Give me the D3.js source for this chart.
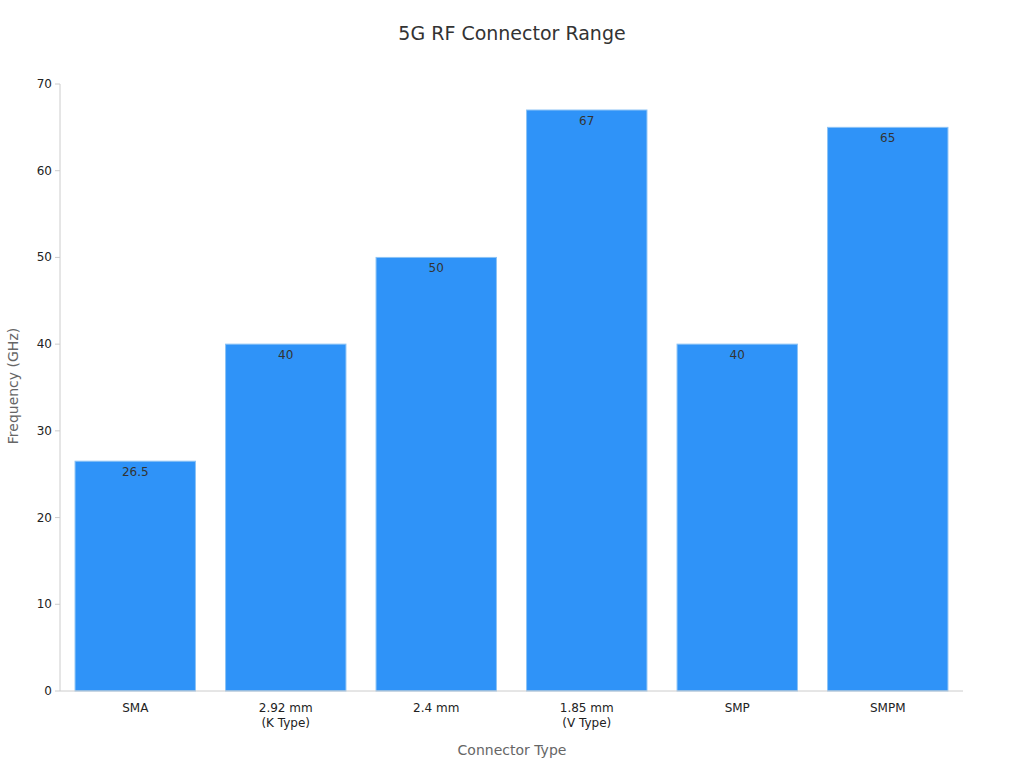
<!DOCTYPE html>
<html><head><meta charset="utf-8">
<script src="https://cdn.jsdelivr.net/npm/d3@7"></script>
<style>body{margin:0;background:#fff;font-family:"DejaVu Sans",sans-serif;}</style>
</head><body><svg id="c" width="1024" height="768"></svg>
<script>
const categories = [["SMA"],["2.92 mm","(K Type)"],["2.4 mm"],["1.85 mm","(V Type)"],["SMP"],["SMPM"]];
const values = [26.5, 40, 50, 67, 40, 65];
const yTicks = [0,10,20,30,40,50,60,70];

const svg = d3.select("#c");
const m = {l:60, r:963, t:84, b:691};
const x = d3.scaleBand().domain(d3.range(categories.length)).range([m.l, m.r]).paddingInner(0.2).paddingOuter(0.1);
const y = d3.scaleLinear().domain([0,70]).range([m.b, m.t]);

svg.append("text").attr("x",512).attr("y",40).attr("text-anchor","middle")
  .attr("font-size",19).attr("fill","#333").text("5G RF Connector Range");

svg.selectAll("rect.bar").data(values).join("rect").attr("class","bar")
  .attr("x",(d,i)=>x(i)).attr("width",x.bandwidth())
  .attr("y",d=>y(d)).attr("height",d=>y(0)-y(d))
  .attr("fill","#2f93f8").attr("stroke","#8cc3f5").attr("stroke-width",1);

svg.selectAll("text.val").data(values).join("text").attr("class","val")
  .attr("x",(d,i)=>x(i)+x.bandwidth()/2).attr("y",d=>y(d)+15)
  .attr("text-anchor","middle").attr("font-size",12).attr("fill","#333").text(d=>d);

// y axis
const ya = svg.append("g");
ya.append("line").attr("x1",m.l).attr("x2",m.l).attr("y1",m.t).attr("y2",m.b).attr("stroke","#ccc");
yTicks.forEach(t=>{
  ya.append("line").attr("x1",m.l-5).attr("x2",m.l).attr("y1",y(t)).attr("y2",y(t)).attr("stroke","#ccc");
  ya.append("text").attr("x",m.l-8).attr("y",y(t)+4).attr("text-anchor","end").attr("font-size",12).attr("fill","#222").text(t);
});
// x axis
svg.append("line").attr("x1",m.l).attr("x2",m.r).attr("y1",m.b).attr("y2",m.b).attr("stroke","#ccc");
categories.forEach((c,i)=>{
  const cx = x(i)+x.bandwidth()/2;
  c.forEach((s,j)=>svg.append("text").attr("x",cx).attr("y",712+j*15).attr("text-anchor","middle")
    .attr("font-size",12).attr("fill","#222").text(s));
});
svg.append("text").attr("x",512).attr("y",755).attr("text-anchor","middle").attr("font-size",14).attr("fill","#666").text("Connector Type");
svg.append("text").attr("transform","translate(18,386) rotate(-90)").attr("text-anchor","middle").attr("font-size",14).attr("fill","#666").text("Frequency (GHz)");
</script></body></html>
